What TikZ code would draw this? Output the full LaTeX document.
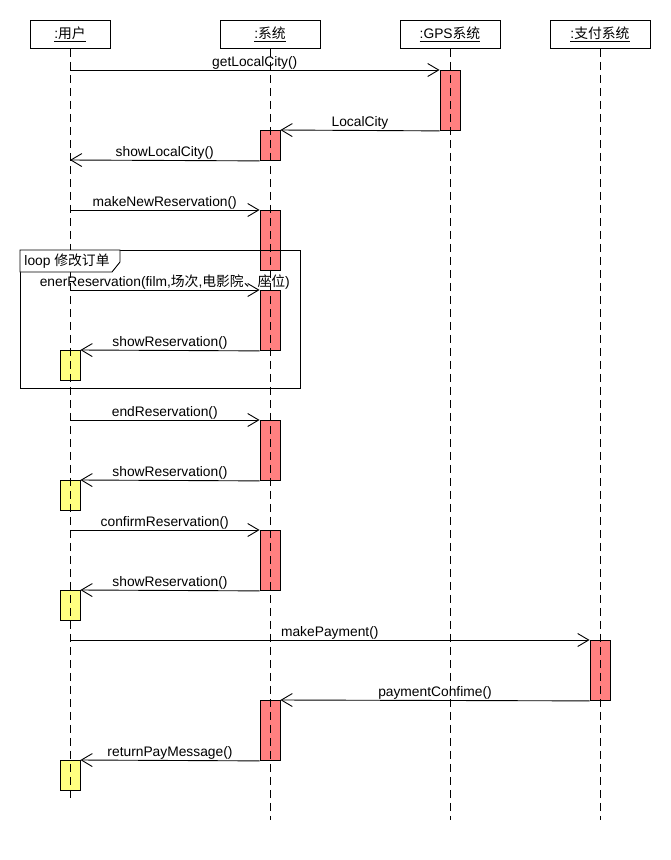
\documentclass[tikz,border=0pt]{standalone}
\usepackage{fontspec}
\setmainfont{Liberation Sans}
\newfontfamily\cjk{Noto Sans CJK SC}
\usetikzlibrary{arrows.meta}
\definecolor{actred}{HTML}{FF8080}
\definecolor{actyel}{HTML}{FFFF80}
\begin{document}
\begin{tikzpicture}[x=1pt,y=-1pt,
  font=\fontsize{13.8}{16}\selectfont,
  every path/.style={line width=0.9pt},
  head/.style={draw, fill=white, minimum width=#1, minimum height=28pt, inner sep=0pt, anchor=north},
  actbox/.style={draw, fill=actred, minimum width=20pt, minimum height=#1, inner sep=0pt, anchor=north},
  usrbox/.style={draw, fill=actyel, minimum width=20pt, minimum height=30pt, inner sep=0pt, anchor=north},
  life/.style={dash pattern=on 8pt off 5pt},
  msg/.style={draw, -{Straight Barb[length=11pt,width=13pt,line width=0.9pt]}},
  lbl/.style={midway, anchor=base, yshift=4pt, inner sep=0pt}
]
\useasboundingbox (0,0) rectangle (670,860);

% heads
\node[head=80pt]  (hU) at (70,20)  {\underline{:{\cjk 用户}}};
\node[head=100pt] (hS) at (270,20) {\underline{:{\cjk 系统}}};
\node[head=100pt] (hG) at (450,20) {\underline{:GPS{\cjk 系统}}};
\node[head=100pt] (hP) at (600,20) {\underline{:{\cjk 支付系统}}};

% activations
\node[actbox=60pt] (g1) at (450,70) {};
\node[actbox=30pt] (s1) at (270,130) {};
\node[actbox=60pt] (s2) at (270,210) {};
\node[actbox=60pt] (s3) at (270,290) {};
\node[usrbox]      (u1) at (70,350) {};
\node[actbox=60pt] (s4) at (270,420) {};
\node[usrbox]      (u2) at (70,480) {};
\node[actbox=60pt] (s5) at (270,530) {};
\node[usrbox]      (u3) at (70,590) {};
\node[actbox=60pt] (p1) at (600,640) {};
\node[actbox=60pt] (s6) at (270,700) {};
\node[usrbox]      (u4) at (70,760) {};

% lifeline ends
\coordinate (eU) at (70,798);
\coordinate (eS) at (270,820);
\coordinate (eG) at (450,820);
\coordinate (eP) at (600,820);
\draw[life] (hU.south) -- (eU);
\draw[life] (hS.south) -- (eS);
\draw[life] (hG.south) -- (eG);
\draw[life] (hP.south) -- (eP);

% loop frame
\node[draw, minimum width=280pt, minimum height=138pt, inner sep=0pt, anchor=north west] (loop) at (20,250) {};
\draw[fill=white] (loop.north west) -- (120,250) -- (120,262) -- (112,272) -- (20,272) -- cycle;
\node[anchor=west, inner sep=0pt] (looplbl) at (24,261) {loop {\cjk 修改订单}};

% message start points on the user lifeline
\coordinate (c1) at (70,70);
\coordinate (c3) at (70,160);
\coordinate (c4) at (70,210);
\coordinate (c5) at (70,290);
\coordinate (c7) at (70,420);
\coordinate (c9) at (70,530);
\coordinate (c11) at (70,640);

% messages
\draw[msg] (c1) -- (g1.north west) node[lbl] {getLocalCity()};
\draw[msg] (g1.south west) -- (s1.north east) node[lbl] {LocalCity};
\draw[msg] (s1.south west) -- (c3) node[lbl] {showLocalCity()};
\draw[msg] (c4) -- (s2.north west) node[lbl] {makeNewReservation()};
\draw[msg] (c5) -- (s3.north west) node[lbl] {enerReservation(film,{\cjk 场次},{\cjk 电影院、座位})};
\draw[msg] (s3.south west) -- (u1.north east) node[lbl] {showReservation()};
\draw[msg] (c7) -- (s4.north west) node[lbl] {endReservation()};
\draw[msg] (s4.south west) -- (u2.north east) node[lbl] {showReservation()};
\draw[msg] (c9) -- (s5.north west) node[lbl] {confirmReservation()};
\draw[msg] (s5.south west) -- (u3.north east) node[lbl] {showReservation()};
\draw[msg] (c11) -- (p1.north west) node[lbl] {makePayment()};
\draw[msg] (p1.south west) -- (s6.north east) node[lbl] {paymentConfime()};
\draw[msg] (s6.south west) -- (u4.north east) node[lbl] {returnPayMessage()};
\end{tikzpicture}
\end{document}
